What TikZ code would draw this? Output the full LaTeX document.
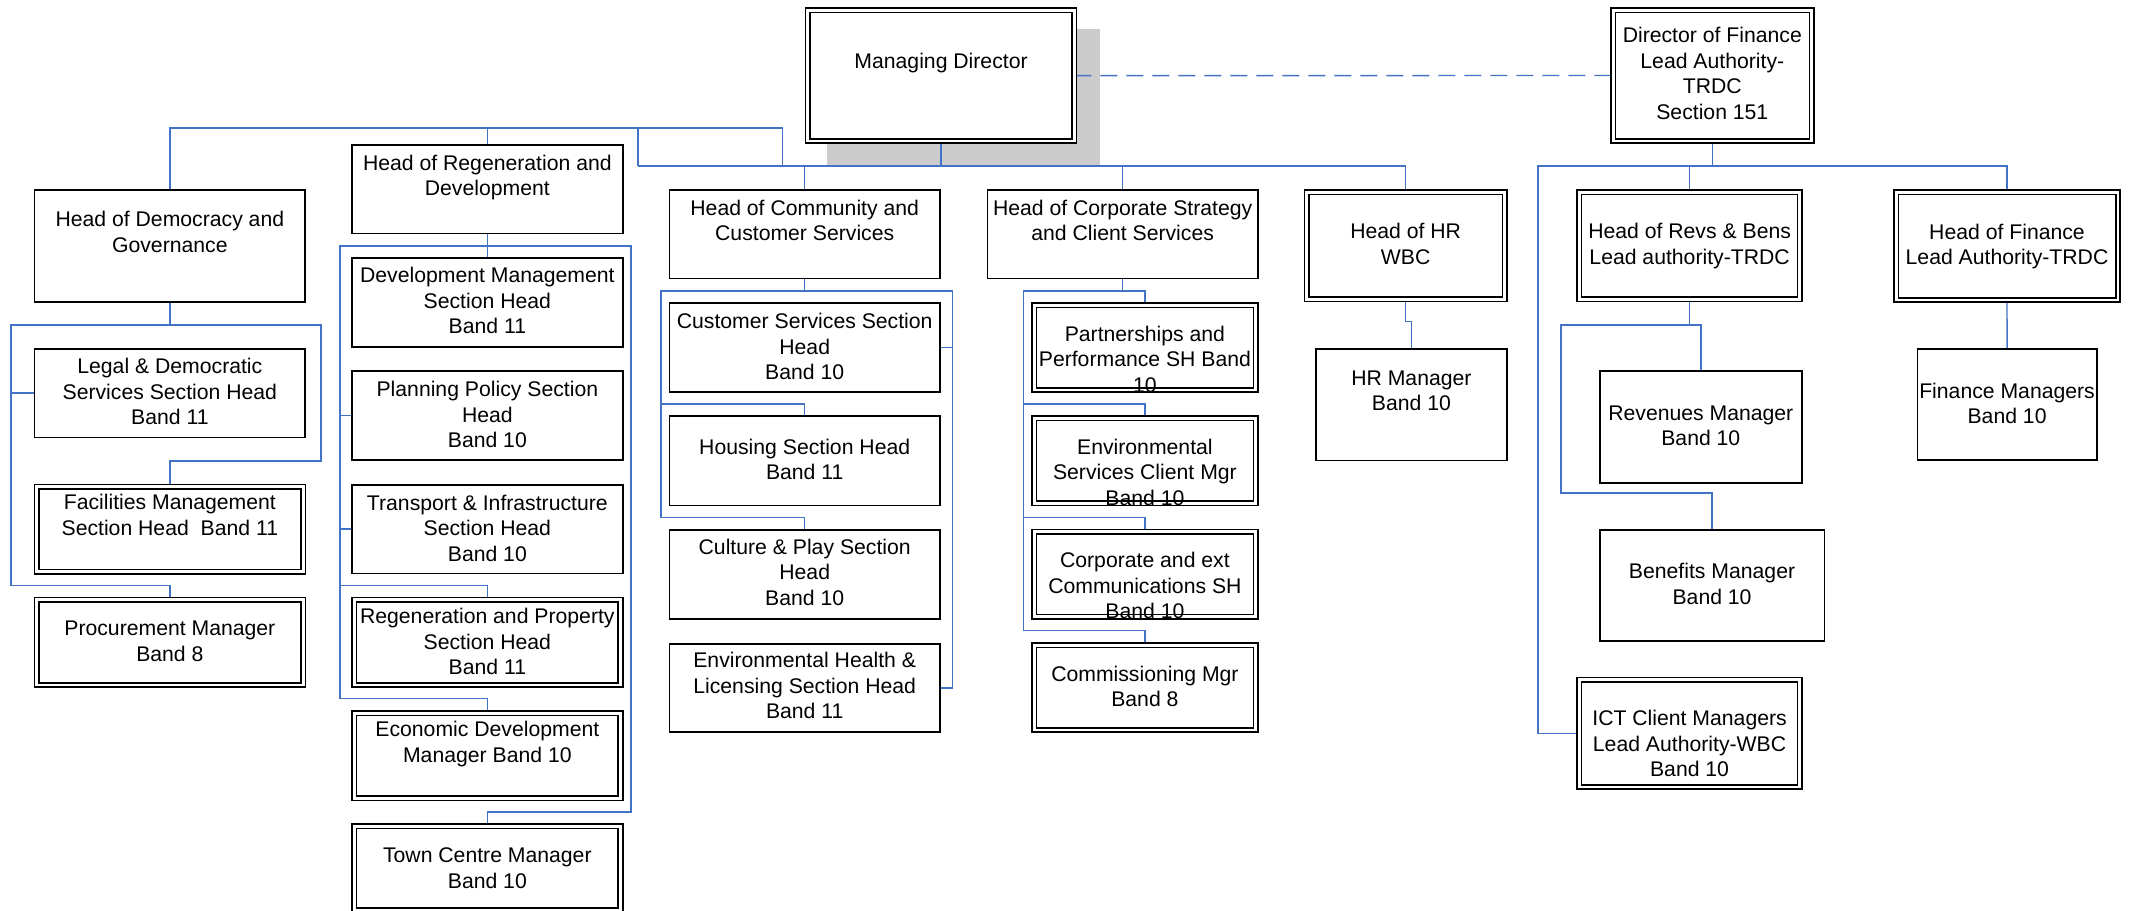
\documentclass[tikz,border=0pt]{standalone}
\usepackage{fontspec}
\setmainfont{Liberation Sans}
\pgfdeclarelayer{bg}
\pgfsetlayers{bg,main}
\definecolor{lineblue}{RGB}{68,114,196}
\tikzset{
  conn/.style={draw=lineblue, line width=1.4pt},
  sbox/.style={draw=black, line width=1.8pt, fill=white, inner sep=0pt, outer sep=0pt},
  dbox/.style={draw=black, line width=1.6pt, double=white, double distance=2.9pt, fill=white, inner sep=0pt, outer sep=0pt},
  txt/.style={anchor=north, inner sep=0pt, align=center, font={\fontsize{21.2}{25.5}\selectfont}},
}
% name, x1, y1, x2, y2, first baseline, text
\newcommand\sbx[7]{%
  \node[sbox, minimum width={#4-#2-1.8}, minimum height={#5-#3-1.8}] (#1) at ({(#2+#4)/2},{(#3+#5)/2}) {};
  \node[txt] (#1-t) at ({(#2+#4)/2},{#6-17}) {\rule{0pt}{17pt}#7};}
\newcommand\dbx[7]{%
  \node[dbox, minimum width={#4-#2-6.1}, minimum height={#5-#3-6.1}] (#1) at ({(#2+#4)/2},{(#3+#5)/2}) {};
  \node[txt] (#1-t) at ({(#2+#4)/2},{#6-17}) {\rule{0pt}{17pt}#7};}
\begin{document}
\begin{tikzpicture}[x=1pt, y=-1pt]
\useasboundingbox (0,0) rectangle (2132,910);
\clip (0,0) rectangle (2132,910);

% ---- boxes ----
\dbx{md}{804.7}{7.3}{1077.4}{144}{68.3}{Managing Director}
\dbx{dof}{1610}{7}{1814.6}{144}{42.7}{Director of Finance\\Lead Authority-\\TRDC\\Section 151}

\sbx{dem}{33.5}{189}{306.2}{302.7}{226.7}{Head of Democracy and\\Governance}
\sbx{reg}{351.2}{143.7}{623.5}{234.3}{170}{Head of Regeneration and\\Development}
\sbx{com}{668.6}{189}{940.8}{279.3}{215}{Head of Community and\\Customer Services}
\sbx{corp}{986.5}{189}{1258.8}{279.3}{215}{Head of Corporate Strategy\\and Client Services}
\dbx{hr}{1303.7}{189}{1507.6}{302.3}{238.3}{Head of HR\\WBC}
\dbx{revs}{1576.3}{189}{1802.9}{302.3}{238.3}{Head of Revs \& Bens\\Lead authority-TRDC}
\dbx{fin}{1893}{189}{2121}{303}{239}{Head of Finance\\Lead Authority-TRDC}

\sbx{legal}{33.5}{347.7}{306.2}{438.3}{373.3}{Legal \& Democratic\\Services Section Head\\Band 11}
\dbx{fac}{33.5}{483.7}{306.2}{574.7}{509.3}{Facilities Management\\Section Head\ \ Band 11}
\dbx{proc}{33.5}{596.7}{306.2}{688}{635.7}{Procurement Manager\\Band 8}

\sbx{dev}{351.2}{256.7}{623.5}{347.5}{282.7}{Development Management\\Section Head\\Band 11}
\sbx{plan}{351.2}{370.3}{623.5}{461}{396.3}{Planning Policy Section\\Head\\Band 10}
\sbx{trans}{351.2}{483.7}{623.5}{574.3}{510}{Transport \& Infrastructure\\Section Head\\Band 10}
\dbx{rp}{351.2}{596.7}{623.5}{688}{623.3}{Regeneration and Property\\Section Head\\Band 11}
\dbx{eco}{351.2}{710}{623.5}{801.3}{736.7}{Economic Development\\Manager Band 10}
\dbx{town}{351.2}{823.3}{623.5}{913}{862.3}{Town Centre Manager\\Band 10}

\sbx{cs}{668.6}{302.3}{940.8}{393}{328.3}{Customer Services Section\\Head\\Band 10}
\sbx{hou}{668.6}{415.3}{940.8}{506.3}{454}{Housing Section Head\\Band 11}
\sbx{cul}{668.6}{528.7}{940.8}{619.7}{554}{Culture \& Play Section\\Head\\Band 10}
\sbx{env}{668.6}{642.7}{940.8}{733}{667.7}{Environmental Health \&\\Licensing Section Head\\Band 11}

\dbx{part}{1031}{302.3}{1258.8}{393}{341}{Partnerships and\\Performance SH Band\\10}
\dbx{envs}{1031}{415.3}{1258.8}{506.3}{454}{Environmental\\Services Client Mgr\\Band 10}
\dbx{cext}{1031}{528.7}{1258.8}{619.7}{567.3}{Corporate and ext\\Communications SH\\Band 10}
\dbx{comm}{1031}{642.3}{1258.8}{733}{681}{Commissioning Mgr\\Band 8}

\sbx{hrm}{1315.2}{347.7}{1507.6}{461.3}{385}{HR Manager\\Band 10}
\sbx{rev}{1598.7}{370}{1802.9}{483.7}{420}{Revenues Manager\\Band 10}
\sbx{ben}{1598.7}{528.7}{1825.4}{642}{578.3}{Benefits Manager\\Band 10}
\dbx{ict}{1576.2}{676.7}{1802.9}{790}{725.7}{ICT Client Managers\\Lead Authority-WBC\\Band 10}
\sbx{finm}{1916.5}{348}{2097.6}{461}{398}{Finance Managers\\Band 10}

% ---- junction coordinates ----
\coordinate (t1) at (638,166);
\coordinate (t2) at (782.6,166);
\coordinate (t3) at (638,128);
\coordinate (t4) at (782.6,128);
\coordinate (f1) at (1538,166);
\coordinate (r1) at (1561,325);
\coordinate (r2) at (1561,493);
\coordinate (d1) at (11,325);
\coordinate (d2) at (321,325);
\coordinate (d3) at (11,585.3);
\coordinate (d4) at (321,461);
\coordinate (g1) at (339.8,246);
\coordinate (g2) at (630.8,246);
\coordinate (g3) at (339.8,698.7);
\coordinate (g4) at (630.8,812);
\coordinate (g5) at (339.8,585.3);
\coordinate (c1) at (660.8,291);
\coordinate (c2) at (952.7,291);
\coordinate (c3) at (660.8,517.3);
\coordinate (c4) at (660.8,404);
\coordinate (p1) at (1023.7,291);
\coordinate (p2) at (1023.7,404);
\coordinate (p3) at (1023.7,517.3);
\coordinate (p4) at (1023.7,630.7);

\begin{pgfonlayer}{bg}
  \fill[white] (0,0) rectangle (2132,910);
  \fill[gray!40] (827.2,29.3) rectangle (1100.4,165);
  % managing director tree
  \draw[conn] (md.south) -- (md.south |- t1);
  \draw[conn] (t1) -| (hr.north);
  \draw[conn] (com.north) -- (com.north |- t1);
  \draw[conn] (corp.north) -- (corp.north |- t1);
  \draw[conn] (t1) -- (t3);
  \draw[conn] (t2) -- (t4);
  \draw[conn] (dem.north) |- (t4);
  \draw[conn] (reg.north) -- (reg.north |- t3);
  \draw[conn, dash pattern=on 17pt off 9pt] (md.east) -- (dof.west);
  % director of finance tree
  \draw[conn] (dof.south) -- (dof.south |- f1);
  \draw[conn] (ict.west) -| (f1) -| (fin.north);
  \draw[conn] (revs.north) -- (revs.north |- f1);
  \draw[conn] (fin.south) -- (finm.north);
  \draw[conn] (revs.south) -- (revs.south |- r1);
  \draw[conn] (rev.north) |- (r1) -- (r2) -| (ben.north);
  % HR
  \draw[conn] (hr.south) -- ++(0,22) -| (hrm.north);
  % democracy
  \draw[conn] (dem.south) -- (dem.south |- d1);
  \draw[conn] (proc.north) |- (d3) -- (d1) -- (d2) -- (d4) -| (fac.north);
  \draw[conn] (legal.west) -- (legal.west -| d1);
  % regeneration
  \draw[conn] (reg.south) -- (dev.north);
  \draw[conn] (eco.north) |- (g3) -- (g1) -- (g2) -- (g4) -| (town.north);
  \draw[conn] (plan.west) -- (plan.west -| g1);
  \draw[conn] (trans.west) -- (trans.west -| g1);
  \draw[conn] (rp.north) |- (g5);
  % community
  \draw[conn] (com.south) -- (com.south |- c1);
  \draw[conn] (cul.north) |- (c3) -- (c1) -- (c2) |- (env.east);
  \draw[conn] (cs.east) -- (cs.east -| c2);
  \draw[conn] (hou.north) |- (c4);
  % corporate
  \draw[conn] (corp.south) -- (corp.south |- p1);
  \draw[conn] (part.north) |- (p1) -- (p4) -| (comm.north);
  \draw[conn] (envs.north) |- (p2);
  \draw[conn] (cext.north) |- (p3);
\end{pgfonlayer}
\end{tikzpicture}
\end{document}
